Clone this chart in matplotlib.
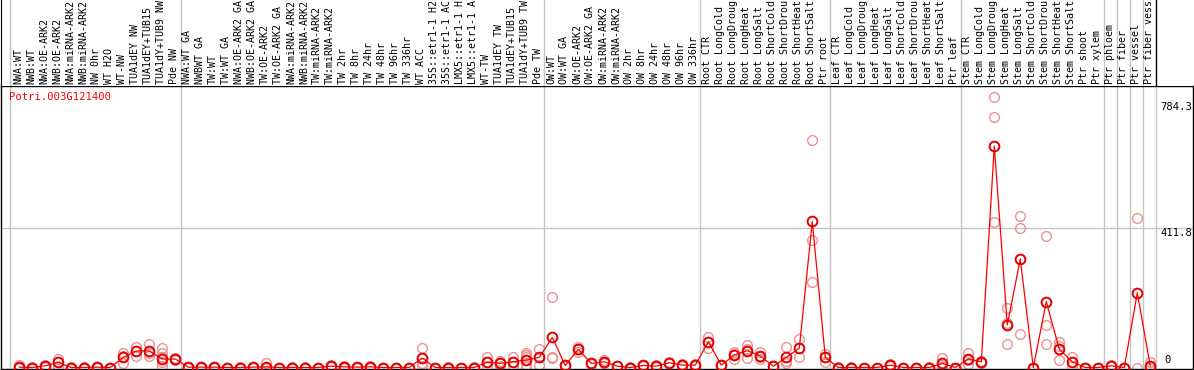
import matplotlib
matplotlib.use("Agg")
import matplotlib.pyplot as plt
import matplotlib.transforms as mtransforms

# ---------------- data ----------------
gene = "Potri.003G121400"

samples = [
    "NWA:WT", "NWB:WT", "NWA:OE-ARK2", "NWB:OE-ARK2", "NWA:miRNA-ARK2", "NWB:miRNA-ARK2",
    "NW 0hr", "WT H2O", "WT-NW", "TUA1dEY NW", "TUA1dEY+TUB15", "TUA1dY+TUB9 NW", "Pde NW",
    "NWA:WT GA", "NWBWT GA", "TW:WT", "TW:WT GA", "NWA:OE-ARK2 GA", "NWB:OE-ARK2 GA",
    "TW:OE-ARK2", "TW:OE-ARK2 GA", "NWA:miRNA-ARK2", "NWB:miRNA-ARK2", "TW:miRNA-ARK2",
    "TW:miRNA-ARK2", "TW 2hr", "TW 8hr", "TW 24hr", "TW 48hr", "TW 96hr", "TW 336hr",
    "WT ACC", "35S::etr1-1 H2", "35S::etr1-1 AC", "LMX5::etr1-1 H", "LMX5::etr1-1 A",
    "WT-TW", "TUA1dEY TW", "TUA1dEY+TUB15", "TUA1dY+TUB9 TW", "Pde TW",
    "OW:WT", "OW:WT GA", "OW:OE-ARK2", "OW:OE-ARK2 GA", "OW:miRNA-ARK2", "OW:miRNA-ARK2",
    "OW 2hr", "OW 8hr", "OW 24hr", "OW 48hr", "OW 96hr", "OW 336hr",
    "Root CTR", "Root LongCold", "Root LongDroug", "Root LongHeat", "Root LongSalt",
    "Root ShortCold", "Root ShortDrou", "Root ShortHeat", "Root ShortSalt", "Ptr root",
    "Leaf CTR", "Leaf LongCold", "Leaf LongDroug", "Leaf LongHeat", "Leaf LongSalt",
    "Leaf ShortCold", "Leaf ShortDrou", "Leaf ShortHeat", "Leaf ShortSalt", "Ptr leaf",
    "Stem CTR", "Stem LongCold", "Stem LongDroug", "Stem LongHeat", "Stem LongSalt",
    "Stem ShortCold", "Stem ShortDrou", "Stem ShortHeat", "Stem ShortSalt",
    "Ptr shoot", "Ptr xylem", "Ptr phloem", "Ptr fiber", "Ptr vessel", "Ptr fiber vess",
]

means = [
    1, 0, 5, 15, 0, 0, 1, 0, 30, 49, 49, 25, 25,
    1, 1, 1, 0, 0, 1, 2, 0, 0, 0, 0, 4, 2, 1, 2, 0, 0, 0, 28, 0, 0, 0, 0, 16, 12, 17, 22, 30,
    89, 6, 54, 12, 17, 4, 0, 6, 4, 14, 7, 7,
    76, 7, 37, 50, 34, 4, 30, 57, 432, 30,
    0, 0, 0, 0, 7, 0, 0, 0, 12, 0,
    25, 17, 655, 126, 321, 0, 195, 54, 17, 0, 0,
    5, 0, 221, 4,
]

replicates = [
    [7, 0, 0], [0, 1, 0], [8, 5, 2], [25, 15, 3], [0, 1, 0], [0, 0, 1], [1, 0, 2], [0, 0, 0],
    [42, 35, 13], [62, 50, 34], [69, 44, 34], [57, 44, 30, 16, 3], [28, 25, 22],
    [0, 2, 1], [1, 0, 2], [2, 0, 1], [0, 0, 0], [0, 1, 0], [2, 0, 1], [13, 0, 0], [0, 0, 0],
    [0, 1, 0], [0, 0, 1], [0, 0, 0], [8, 3, 1], [4, 1, 0], [1, 0, 2], [5, 1, 0], [0, 0, 0],
    [0, 0, 0], [0, 0, 0], [57, 13, 3], [0, 0, 0], [0, 1, 0], [0, 0, 0], [0, 0, 1],
    [30, 16, 2], [18, 12, 4], [30, 17, 3], [44, 38, 30, 8, 2], [54, 30, 7],
    [208, 30, 28], [6, 5, 7], [62, 54, 46], [12, 10, 14], [22, 17, 12], [4, 5, 3],
    [0, 1, 0], [6, 7, 5], [6, 4, 2], [16, 14, 12], [9, 7, 5], [9, 7, 5],
    [91, 76, 57], [7, 6, 8], [47, 40, 24], [67, 55, 27], [47, 30, 25], [4, 3, 5],
    [60, 18, 12], [83, 57, 30], [673, 377, 253], [40, 30, 17],
    [0, 0, 1], [0, 1, 0], [0, 0, 0], [0, 0, 0], [10, 7, 4], [0, 0, 0], [0, 0, 0],
    [0, 0, 1], [27, 8, 2], [0, 0, 0],
    [44, 22, 10], [20, 17, 14], [800, 741, 430], [175, 133, 70], [448, 413, 99], [0, 0, 0],
    [389, 126, 70], [76, 64, 22], [30, 17, 3], [0, 0, 0], [0, 0, 0],
    [7, 4, 4], [0, 0, 0], [442, 0], [17, 0, 0],
]

ytick_values = [0, 411.8, 784.3]
ytick_labels = ["0", "411.8", "784.3"]

# group separators (between sample columns)
separators = [-0.72, 12.4, 40.4, 52.4, 62.4, 72.4, 83.4, 84.4, 85.4, 86.4, 87.4]

# ---------------- layout ----------------
W, H = 1194, 370
FONT = "DejaVu Sans Mono"
FS = 7.2
GRAY = "#c4c4c4"
PINK = "#f09090"

fig = plt.figure(figsize=(W / 100, H / 100), dpi=100)

x = list(range(len(samples)))
xlim = ((1 - 19.3) / 13, (1193 - 19.3) / 13)

# main plot axes (px: x 1..1193, y 86..369 from top)
ax = fig.add_axes([1 / W, 1 / H, 1192 / W, 283 / H])
ax.set_xlim(*xlim)
ax.set_ylim((367.5 - 369) * 2.958, (367.5 - 86) * 2.958)
ax.set_xticks([])
ax.set_yticks([])
for s in ax.spines.values():
    s.set_color("black")
    s.set_linewidth(1.0)

for sep in separators:
    ax.axvline(sep, color=GRAY, lw=1.0, zorder=1)
ax.axhline(ytick_values[1], color=GRAY, lw=1.0, zorder=1)

# replicates
for xi, reps in zip(x, replicates):
    ax.plot([xi] * len(reps), reps, linestyle="none", marker="o", ms=7,
            mfc="none", mec=PINK, mew=1.0, zorder=2)

ax.plot(x, means, color="red", lw=0.9, zorder=3)
ax.plot(x, means, linestyle="none", marker="o", ms=7, mfc="none",
        mec="#e00000", mew=1.4, zorder=4)

trans = mtransforms.blended_transform_factory(ax.transAxes, ax.transData)
ax.text((1192 - 1) / 1192, ytick_values[2], ytick_labels[2], transform=trans,
        ha="right", va="top", family=FONT, fontsize=FS + 0.4, color="black")
ax.text((1192 - 1) / 1192, ytick_values[1], ytick_labels[1], transform=trans,
        ha="right", va="top", family=FONT, fontsize=FS + 0.4, color="black")
ax.text((1164 - 1) / 1192, ytick_values[0] + 7, ytick_labels[0], transform=trans,
        ha="left", va="bottom", family=FONT, fontsize=FS + 0.4, color="black")

fig.text(9.5 / W, 1 - 97 / H, gene, color="red", ha="left", va="center",
         family=FONT, fontsize=FS + 0.4)

# header axes with rotated sample names (px y 0..86 from top)
hx = fig.add_axes([1 / W, 284 / H, 1192 / W, 86 / H])
hx.set_xlim(*xlim)
hx.set_ylim(86, 0)
hx.set_xticks([])
hx.set_yticks([])
for name, s in hx.spines.items():
    s.set_visible(name == "left")
    s.set_color("black")
for sep in separators[:-1]:
    hx.axvline(sep, color=GRAY, lw=1.0)
hx.axvline(separators[-1], color="black", lw=1.0)

for xi, name in zip(x, samples):
    hx.text(xi - 0.1, 83.5, name, rotation=90, ha="center", va="bottom",
            family=FONT, fontsize=FS, color="black")

fig.savefig("out.png", dpi=100)
